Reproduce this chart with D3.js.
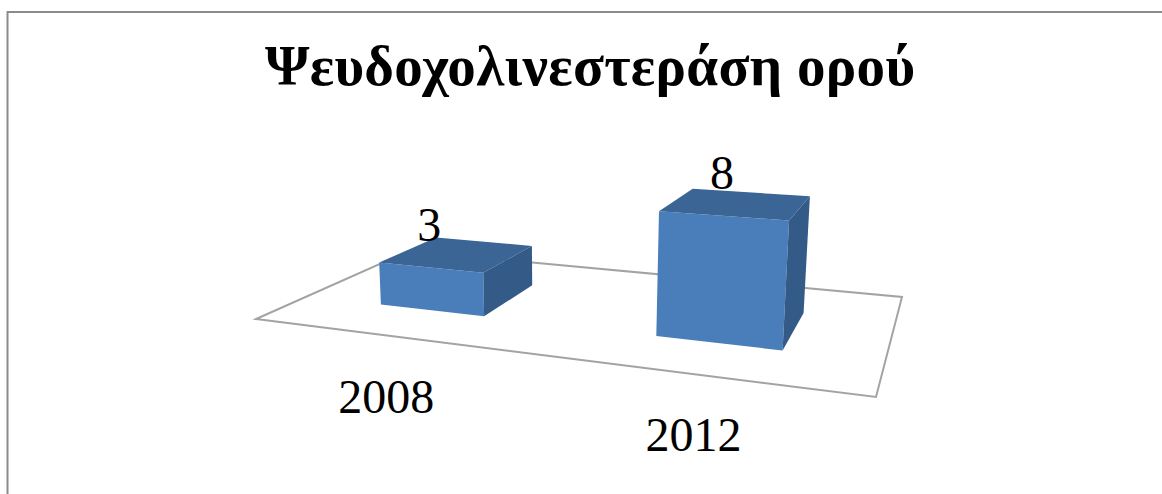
<!DOCTYPE html>
<html>
<head>
<meta charset="utf-8">
<script src="https://cdn.jsdelivr.net/npm/d3@7"></script>
<style>
html, body { margin: 0; padding: 0; background: #fff; }
svg { display: block; }
text { font-family: "Liberation Serif", serif; fill: #000; }
</style>
</head>
<body>
<svg id="chart" width="1162" height="494"></svg>
<script>
const chartTitle = "Ψευδοχολινεστεράση ορού";
const categories = ["2008", "2012"];
const values = [3, 8];

const svg = d3.select("#chart");

// Floor of the 3D plot, as seen on screen.
const floor = { bl: [409, 251], br: [902, 297], fr: [876, 397], fl: [256, 319] };

// Square-to-quad homography: (u, v) on the floor, v = 0 at the front edge.
function makeHomography(p00, p10, p11, p01) {
  const dx1 = p10[0] - p11[0], dx2 = p01[0] - p11[0], sx = p00[0] - p10[0] + p11[0] - p01[0];
  const dy1 = p10[1] - p11[1], dy2 = p01[1] - p11[1], sy = p00[1] - p10[1] + p11[1] - p01[1];
  const det = dx1 * dy2 - dx2 * dy1;
  const g = (sx * dy2 - dx2 * sy) / det;
  const h = (dx1 * sy - sx * dy1) / det;
  return {
    a: p10[0] - p00[0] + g * p10[0], b: p01[0] - p00[0] + h * p01[0], c: p00[0],
    d: p10[1] - p00[1] + g * p10[1], e: p01[1] - p00[1] + h * p01[1], f: p00[1],
    g, h
  };
}
const H = makeHomography(floor.fl, floor.fr, floor.br, floor.bl);

// Vertical lines converge on a far point below the plot.
const verticalVanish = [560, 4800];
const rise = d3.scaleLinear().domain([0, 8]).range([0, 0.0258]);

function project(u, v, value) {
  const X = H.a * u + H.b * v + H.c;
  const Y = H.d * u + H.e * v + H.f;
  const W = H.g * u + H.h * v + 1;
  const s = -rise(value);
  return [
    (X + s * verticalVanish[0]) / (W + s),
    (Y + s * verticalVanish[1]) / (W + s)
  ];
}

const x = d3.scaleBand().domain(categories).range([0, 1])
  .paddingInner(0.602).paddingOuter(0.301).align(0.502);
const depth = d3.scaleLinear().domain([0, 1]).range([0.286, 0.69]);

const poly = pts => pts.map(p => p.map(n => n.toFixed(1)).join(",")).join(" ");

// Chart area border: open at the right and bottom of the page.
svg.append("path")
  .attr("d", d3.line()([[7.5, 494], [7.5, 12], [1162, 12]]))
  .attr("fill", "none").attr("stroke", "#8c8c8c").attr("stroke-width", 2);

// Floor outline
svg.append("polygon")
  .attr("points", poly([floor.fl, floor.fr, floor.br, floor.bl]))
  .attr("fill", "#fff").attr("stroke", "#a3a3a3").attr("stroke-width", 2);

// Bars, each built from three visible faces
const bars = svg.selectAll("g.bar")
  .data(categories.map((c, i) => ({ c, value: values[i] })))
  .join("g").attr("class", "bar");

function corners(d) {
  const u0 = x(d.c), u1 = u0 + x.bandwidth();
  const v0 = depth(0), v1 = depth(1);
  return {
    fl0: project(u0, v0, 0), fr0: project(u1, v0, 0), br0: project(u1, v1, 0),
    fl1: project(u0, v0, d.value), fr1: project(u1, v0, d.value),
    br1: project(u1, v1, d.value), bl1: project(u0, v1, d.value)
  };
}

bars.append("polygon").attr("fill", "#4a7ebb")
  .attr("points", d => { const k = corners(d); return poly([k.fl0, k.fr0, k.fr1, k.fl1]); });
bars.append("polygon").attr("fill", "#3a6595")
  .attr("points", d => { const k = corners(d); return poly([k.fl1, k.fr1, k.br1, k.bl1]); });
bars.append("polygon").attr("fill", "#345a88")
  .attr("points", d => { const k = corners(d); return poly([k.fr0, k.br0, k.br1, k.fr1]); });

// Value labels sit just above the middle of the top face's front edge.
bars.append("text")
  .attr("text-anchor", "middle").attr("font-size", 48)
  .attr("x", d => { const k = corners(d); return (k.fl1[0] + k.fr1[0]) / 2 - 2; })
  .attr("y", d => { const k = corners(d); return (k.fl1[1] + k.fr1[1]) / 2 - 27; })
  .text(d => d.value);

// Category labels hang below the front edge of the floor.
svg.selectAll("text.category")
  .data(categories)
  .join("text").attr("class", "category")
  .attr("text-anchor", "middle").attr("font-size", 48)
  .attr("x", d => project(x(d) + x.bandwidth() / 2, 0, 0)[0] - 1)
  .attr("y", d => project(x(d) + x.bandwidth() / 2, 0, 0)[1] + 77)
  .text(d => d);

// Title
svg.append("text")
  .attr("text-anchor", "middle").attr("font-size", 57).attr("font-weight", "bold")
  .attr("x", 590).attr("y", 85)
  .attr("textLength", 650).attr("lengthAdjust", "spacing")
  .text(chartTitle);
</script>
</body>
</html>
